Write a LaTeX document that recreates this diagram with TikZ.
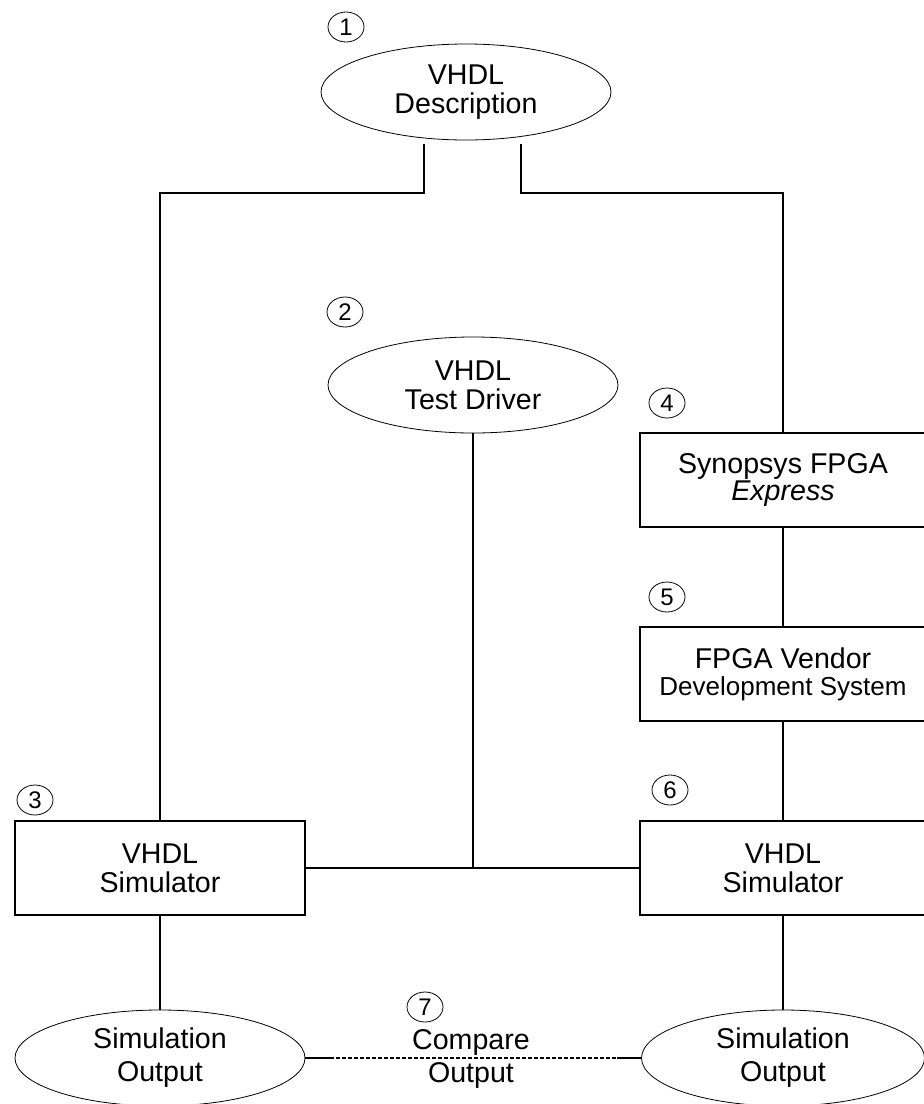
\documentclass[tikz,border=0pt]{standalone}
\usepackage{fontspec}
\setmainfont{Liberation Sans}
\usetikzlibrary{positioning,shapes.geometric}

\begin{document}
\begin{tikzpicture}[
		x=0.5pt, y=-0.5pt,
		oval/.style={ellipse, draw, thin, inner sep=0pt, outer sep=0pt, minimum width=145pt, minimum height=48pt, align=center, font=\fontsize{14.3}{14.5}\selectfont},
		tool/.style={rectangle, draw, line width=1.4pt, inner sep=0pt, outer sep=0pt, minimum width=143pt, minimum height=47pt, align=center, font=\fontsize{14.3}{13.5}\selectfont},
		stepno/.style={ellipse, draw, thin, inner sep=0pt, minimum width=18pt, minimum height=15pt, font=\fontsize{12}{12}\selectfont},
		link/.style={line width=1pt},
		]
		\useasboundingbox (0,0) rectangle (924,1104);

		%Main Nodes
		\node[oval]	(desc)		at (466,92)	{VHDL\\Description};
		\node[oval]	(driver)	at (473,385)	{VHDL\\Test Driver};
		\node[tool]	(synopsys)	at (783,480)	{Synopsys FPGA\\\textit{Express}};
		\node[tool]	(vendor)	[below=50pt of synopsys]	{FPGA Vendor\\{\fontsize{13}{13}\selectfont Development System}};
		\node[tool, font=\fontsize{14.3}{14.5}\selectfont]	(sim2)	[below=50pt of vendor]	{VHDL\\Simulator};
		\node[tool, font=\fontsize{14.3}{14.5}\selectfont, minimum width=145pt]	(sim1)	[left=167.5pt of sim2]	{VHDL\\Simulator};
		\node[oval, font=\fontsize{14.3}{16.5}\selectfont]	(out1)	[below=47.5pt of sim1]	{Simulation\\Output};
		\node[oval, font=\fontsize{14.3}{16.5}\selectfont, minimum width=141.5pt]	(out2)	[below=47.5pt of sim2]	{Simulation\\Output};
		\node[align=center, inner sep=0pt, font=\fontsize{14.3}{16.5}\selectfont]	(compare)	at (471,1059)	{Compare\\Output};

		%Step numbers
		\node[stepno]	(n1)	at (346,27)	{1};
		\node[stepno]	(n2)	at (345,312)	{2};
		\node[stepno]	(n3)	at (35,800)	{3};
		\node[stepno]	(n4)	at (667,403)	{4};
		\node[stepno]	(n5)	at (667,597)	{5};
		\node[stepno]	(n6)	at (670,790)	{6};
		\node[stepno]	(n7)	at (425,1007)	{7};

		%Main Lines
		\coordinate (descL) at (424,144);
		\coordinate (descR) at (521,144);
		\draw[link]	(descL) -- ++(0,49) -| (sim1.north);
		\draw[link]	(descR) -- ++(0,49) -| (synopsys.north);
		\draw[link]	(synopsys.south) -- (vendor.north);
		\draw[link]	(vendor.south) -- (sim2.north);
		\draw[link]	(sim1.east) -- (sim2.west);
		\draw[link]	(driver.south) -- (driver.south |- sim1.east);
		\draw[link]	(sim1.south) -- (out1.north);
		\draw[link]	(sim2.south) -- (out2.north);

		%Compare
		\draw[link]	(out1.east) -- ++(25,0) coordinate (cmpL);
		\draw[link]	(out2.west) -- ++(-25,0) coordinate (cmpR);
		\draw[link, dash pattern=on 2pt off 1pt]	(cmpL) -- (cmpR);

	\end{tikzpicture}
\end{document}
